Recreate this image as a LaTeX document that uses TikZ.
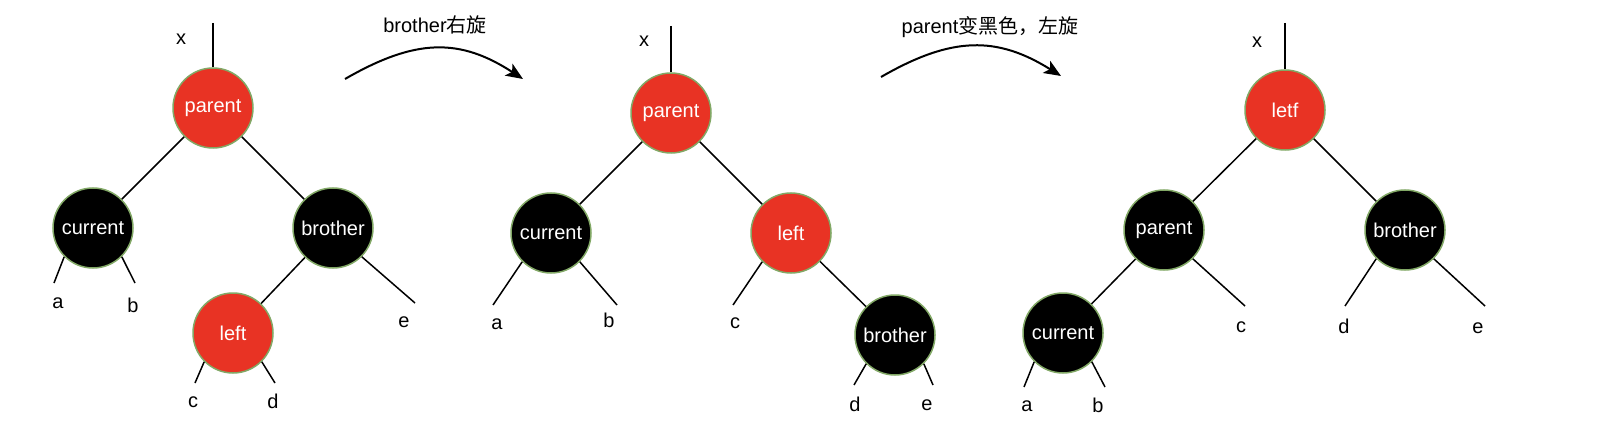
\documentclass[tikz,border=0pt]{standalone}
\usepackage{fontspec}
\setmainfont{Liberation Sans}
\newfontfamily\cjk{Noto Sans CJK SC}
\usetikzlibrary{arrows.meta}
\definecolor{rbred}{HTML}{E83324}
\definecolor{rbedge}{HTML}{82A866}
\tikzset{
  rbnode/.style={circle, minimum size=80pt, inner sep=0pt, line width=1.5pt, draw=rbedge, text=white, font=\fontsize{20}{24}\selectfont},
  rednode/.style={rbnode, fill=rbred},
  blacknode/.style={rbnode, fill=black},
  leaftext/.style={inner sep=0pt, font=\fontsize{20}{24}\selectfont, text=black},
  tline/.style={line width=1.5pt, black},
  rotarrow/.style={line width=2pt, black, -{Stealth[length=17pt,width=14pt,inset=4pt]}},
  titletext/.style={inner sep=0pt, font=\fontsize{20}{24}\selectfont}
}
\begin{document}
\begin{tikzpicture}[x=1pt,y=-1pt]
\useasboundingbox (0,0) rectangle (1608,422);
\fill[white] (0,0) rectangle (1608,422);

% ---------- Tree 1 ----------
\coordinate (top1) at (213,23);
\node[rednode] (p1) at (213,108) {parent};
\node[blacknode] (c1) at (93,228) {current};
\node[blacknode] (b1) at (333,228) {brother};
\node[rednode] (l1) at (233,333) {left};
\node[leaftext] (x1) at (181,39) {x};
\coordinate (ea1) at (54,283);
\coordinate (eb1) at (135,283);
\coordinate (ee1) at (415,303);
\coordinate (ec1) at (195,383);
\coordinate (ed1) at (275,383);
\node[leaftext] (ta1) at (58,303) {a};
\node[leaftext] (tb1) at (133,305) {b};
\node[leaftext] (te1) at (404,322) {e};
\node[leaftext] (tc1) at (193,402) {c};
\node[leaftext] (td1) at (273,401) {d};
\draw[tline] (top1) -- (p1);
\draw[tline] (p1) -- (c1);
\draw[tline] (p1) -- (b1);
\draw[tline] (b1) -- (l1);
\draw[tline] (c1.225) -- (ea1);
\draw[tline] (c1.315) -- (eb1);
\draw[tline] (b1.315) -- (ee1);
\draw[tline] (l1.225) -- (ec1);
\draw[tline] (l1.315) -- (ed1);

% ---------- Arrow 1 ----------
\node[titletext] (t1) at (435,25) {brother{\cjk 右旋}};
\coordinate (as1) at (345,79);
\coordinate (ae1) at (523,79);
\draw[rotarrow] (as1) .. controls (416,38) and (460,38) .. (ae1);

% ---------- Tree 2 ----------
\coordinate (top2) at (671,26);
\node[rednode] (p2) at (671,113) {parent};
\node[blacknode] (c2) at (551,233) {current};
\node[rednode] (l2) at (791,233) {left};
\node[blacknode] (b2) at (895,335) {brother};
\node[leaftext] (x2) at (644,41) {x};
\coordinate (ea2) at (493,305);
\coordinate (eb2) at (617,305);
\coordinate (ec2) at (733,305);
\coordinate (ed2) at (854,385);
\coordinate (ee2) at (933,385);
\node[leaftext] (ta2) at (497,324) {a};
\node[leaftext] (tb2) at (609,320) {b};
\node[leaftext] (tc2) at (735,323) {c};
\node[leaftext] (td2) at (855,404) {d};
\node[leaftext] (te2) at (927,405) {e};
\draw[tline] (top2) -- (p2);
\draw[tline] (p2) -- (c2);
\draw[tline] (p2) -- (l2);
\draw[tline] (l2) -- (b2);
\draw[tline] (c2.225) -- (ea2);
\draw[tline] (c2.315) -- (eb2);
\draw[tline] (l2.225) -- (ec2);
\draw[tline] (b2.225) -- (ed2);
\draw[tline] (b2.315) -- (ee2);

% ---------- Arrow 2 ----------
\node[titletext] (t2) at (990,27) {parent{\cjk 变黑色，左旋}};
\coordinate (as2) at (881,77);
\coordinate (ae2) at (1061,76);
\draw[rotarrow] (as2) .. controls (952,36) and (997,36) .. (ae2);

% ---------- Tree 3 ----------
\coordinate (top3) at (1285,23);
\node[rednode] (lt3) at (1285,110) {letf};
\node[blacknode] (pa3) at (1164,230) {parent};
\node[blacknode] (br3) at (1405,230) {brother};
\node[blacknode] (cu3) at (1063,333) {current};
\node[leaftext] (x3) at (1257,42) {x};
\coordinate (ec3) at (1245,306);
\coordinate (ed3) at (1345,306);
\coordinate (ee3) at (1485,306);
\coordinate (ea3) at (1024,387);
\coordinate (eb3) at (1105,387);
\node[leaftext] (tc3) at (1241,327) {c};
\node[leaftext] (td3) at (1344,326) {d};
\node[leaftext] (te3) at (1478,328) {e};
\node[leaftext] (ta3) at (1027,406) {a};
\node[leaftext] (tb3) at (1098,405) {b};
\draw[tline] (top3) -- (lt3);
\draw[tline] (lt3) -- (pa3);
\draw[tline] (lt3) -- (br3);
\draw[tline] (pa3) -- (cu3);
\draw[tline] (pa3.315) -- (ec3);
\draw[tline] (br3.225) -- (ed3);
\draw[tline] (br3.315) -- (ee3);
\draw[tline] (cu3.225) -- (ea3);
\draw[tline] (cu3.315) -- (eb3);
\end{tikzpicture}
\end{document}
